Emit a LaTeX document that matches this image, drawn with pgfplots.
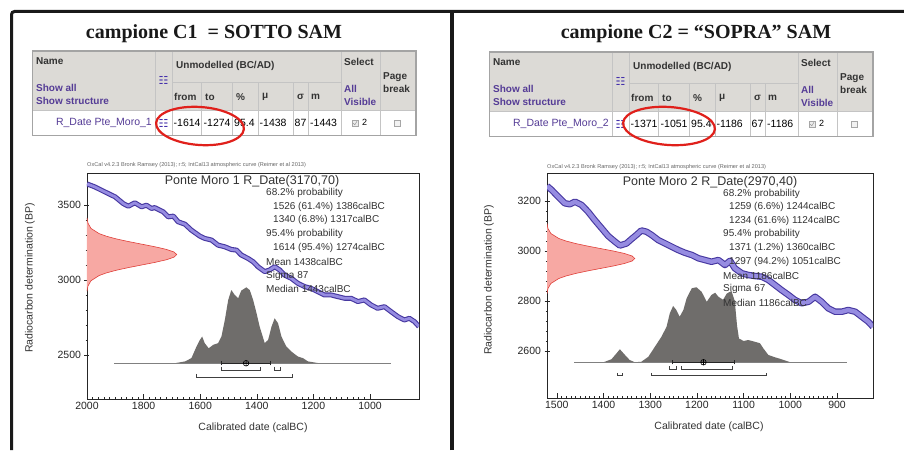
\documentclass[border=0pt]{standalone}
\usepackage{fontspec}
\setmainfont{Liberation Sans}
\newfontfamily\titlefont{Liberation Serif}
\newfontfamily\symfont{DejaVu Sans}
\usepackage{pgfplots}
\pgfplotsset{compat=1.18}

\definecolor{bandedge}{HTML}{4637A0}
\definecolor{bandfill}{HTML}{968CE1}
\definecolor{gaussfill}{HTML}{F7A8A3}
\definecolor{gaussedge}{HTML}{E0403A}
\definecolor{postfill}{HTML}{6F6D6B}
\definecolor{txt}{HTML}{333333}
\definecolor{hdr}{HTML}{DCDAD6}
\definecolor{tabborder}{HTML}{A4A4A4}
\definecolor{tabline}{HTML}{C4C4C4}
\definecolor{lnk}{HTML}{553C96}
\definecolor{ring}{HTML}{E0201B}

\newcommand{\fs}[1]{\fontsize{#1}{#1}\selectfont}

% OxCal style table: x0, y0 (top left), name, from, to, mu, sigma, m
\newcommand{\oxtable}[8]{%
\begin{scope}[shift={(#1,#2)}]
  \fill[tabborder] (-1.5,1.5) rectangle (383.5,-84.5);
  \fill[hdr] (0,0) rectangle (382,-59);
  \fill[white] (0,-59) rectangle (382,-83);
  \draw[tabline, line width=1pt]
    (122,0) -- (122,-83) (139,0) -- (139,-83) (308,0) -- (308,-83) (347,0) -- (347,-83)
    (168,-31) -- (168,-83) (199,-31) -- (199,-83) (225,-31) -- (225,-83)
    (260,-31) -- (260,-83) (275,-31) -- (275,-83)
    (139,-31) -- (308,-31) (0,-59) -- (382,-59);
  \begin{scope}[every node/.style={inner sep=0pt, anchor=west}]
    \node[font=\fs{10}\bfseries, text=txt] at (3,-9) {Name};
    \node[font=\fs{10}\bfseries, text=lnk] at (3,-36) {Show all};
    \node[font=\fs{10}\bfseries, text=lnk] at (3,-49) {Show structure};
    \node[font=\symfont\fs{11}, text=lnk!80!blue, anchor=center] at (130.5,-28) {☷};
    \node[font=\fs{10}\bfseries, text=txt] at (143,-14) {Unmodelled (BC/AD)};
    \node[font=\fs{10}\bfseries, text=txt] at (141,-45) {from};
    \node[font=\fs{10}\bfseries, text=txt] at (172,-45) {to};
    \node[font=\fs{10}\bfseries, text=txt] at (203,-45) {\%};
    \node[font=\fs{10}\bfseries, text=txt] at (229,-45) {μ};
    \node[font=\fs{10}\bfseries, text=txt] at (264,-45) {σ};
    \node[font=\fs{10}\bfseries, text=txt] at (278,-45) {m};
    \node[font=\fs{10}\bfseries, text=txt] at (311,-10) {Select};
    \node[font=\fs{10}\bfseries, text=lnk] at (311,-37) {All};
    \node[font=\fs{10}\bfseries, text=lnk] at (311,-50) {Visible};
    \node[font=\fs{10}\bfseries, text=txt] at (350,-25) {Page};
    \node[font=\fs{10}\bfseries, text=txt] at (350,-37) {break};
    \node[font=\fs{10.5}, text=lnk, anchor=east] at (119,-71) {#3};
    \node[font=\symfont\fs{11}, text=lnk!80!blue, anchor=center] at (130.5,-71) {☷};
    \node[font=\fs{10.5}, text=black] at (140.5,-71) {#4};
    \node[font=\fs{10.5}, text=black] at (170.5,-71) {#5};
    \node[font=\fs{10.5}, text=black] at (201,-71) {95.4};
    \node[font=\fs{10.5}, text=black] at (226.5,-71) {#6};
    \node[font=\fs{10.5}, text=black] at (261.5,-71) {#7};
    \node[font=\fs{10.5}, text=black] at (277,-71) {#8};
    \node[font=\fs{9}, text=black] at (329,-70) {2};
  \end{scope}
  \draw[gray!70, fill=gray!15] (319,-74) rectangle (325,-68);
  \draw[gray!80, line width=0.5pt] (320.2,-71.2) -- (321.8,-72.8) -- (324,-69.2);
  \draw[gray!70, fill=gray!10] (361,-74) rectangle (367,-68);
\end{scope}}

\pgfplotsset{
  oxaxis/.style={
    scale only axis, x dir=reverse,
    axis line style={black!85, line width=0.7pt},
    tick style={black!85, line width=0.5pt},
    major tick length=5pt, minor tick length=2.5pt,
    tick pos=left, xtick align=inside, ytick align=center,
    tick label style={font=\fs{10.5}, text=black!85},
    scaled ticks=false,
    /pgf/number format/assume math mode=true,
    /pgf/number format/set thousands separator={},
  },
}

\begin{document}
\begin{tikzpicture}[x=1pt, y=1pt]
\path[use as bounding box, fill=white] (0,0) rectangle (904,450);

% titles
\node[font=\titlefont\fs{20}\bfseries, text=black!90] at (214,416) {campione C1\ \ = SOTTO SAM};
\node[font=\titlefont\fs{20}\bfseries, text=black!90] at (696,416) {campione C2 = “SOPRA” SAM};

% tables
\oxtable{33}{398}{R\_Date Pte\_Moro\_1}{-1614}{-1274}{-1438}{87}{-1443}
\oxtable{490}{397}{R\_Date Pte\_Moro\_2}{-1371}{-1051}{-1186}{67}{-1186}

% ---------- left chart: Ponte Moro 1 ----------
\begin{axis}[oxaxis, at={(87pt,51pt)}, anchor=south west, width=332pt, height=226pt,
  xmin=827, xmax=2000, ymin=2205, ymax=3715,
  xtick={1000,1200,1400,1600,1800,2000}, minor x tick num=9,
  ytick={2500,3000,3500}, minor y tick num=4]
% calibration curve band
\addplot[bandedge, line width=5pt, line join=round] coordinates {
 (2000,3642) (1972,3622) (1937,3589) (1901,3556) (1872,3511) (1854,3493) (1831,3516)
 (1807,3489) (1790,3500) (1772,3478) (1761,3484) (1731,3456) (1713,3422) (1695,3427)
 (1678,3389) (1654,3373) (1631,3333) (1601,3293) (1584,3278) (1560,3267) (1537,3233)
 (1513,3222) (1490,3204) (1472,3200) (1455,3167) (1431,3144) (1413,3122) (1396,3089)
 (1372,3056) (1355,3067) (1337,3089) (1319,3067) (1302,3033) (1278,3011) (1255,2978)
 (1231,2956) (1208,2944) (1184,2922) (1161,2900) (1137,2900) (1114,2889) (1090,2878)
 (1067,2878) (1043,2856) (1020,2867) (996,2833) (973,2811) (949,2822) (926,2789)
 (902,2756) (879,2733) (861,2744) (843,2722) (827,2689)};
\addplot[bandfill, line width=2.8pt, line join=round] coordinates {
 (2000,3642) (1972,3622) (1937,3589) (1901,3556) (1872,3511) (1854,3493) (1831,3516)
 (1807,3489) (1790,3500) (1772,3478) (1761,3484) (1731,3456) (1713,3422) (1695,3427)
 (1678,3389) (1654,3373) (1631,3333) (1601,3293) (1584,3278) (1560,3267) (1537,3233)
 (1513,3222) (1490,3204) (1472,3200) (1455,3167) (1431,3144) (1413,3122) (1396,3089)
 (1372,3056) (1355,3067) (1337,3089) (1319,3067) (1302,3033) (1278,3011) (1255,2978)
 (1231,2956) (1208,2944) (1184,2922) (1161,2900) (1137,2900) (1114,2889) (1090,2878)
 (1067,2878) (1043,2856) (1020,2867) (996,2833) (973,2811) (949,2822) (926,2789)
 (902,2756) (879,2733) (861,2744) (843,2722) (827,2689)};
% radiocarbon determination 3170+-70
\addplot[draw=gaussedge, fill=gaussfill, line width=0.6pt] coordinates {
 (2000,3415) (1996.5,3380) (1986.1,3345) (1957.1,3310) (1931.4,3292.5) (1897.1,3275)
 (1854.9,3257.5) (1807.7,3240) (1760.7,3222.5) (1720.2,3205) (1692.8,3187.5) (1683,3170)
 (1692.8,3152.5) (1720.2,3135) (1760.7,3117.5) (1807.7,3100) (1854.9,3082.5) (1897.1,3065)
 (1931.4,3047.5) (1957.1,3030) (1986.1,2995) (1996.5,2960) (2000,2925)};
% calibrated distribution
\addplot[draw=none, fill=postfill] coordinates {
 (1690,2444) (1654,2456) (1631,2478) (1613,2556) (1601,2600) (1593,2622) (1584,2578)
 (1570,2544) (1554,2567) (1537,2578) (1525,2622) (1513,2733) (1501,2867) (1490,2933)
 (1478,2900) (1466,2878) (1455,2929) (1437,2951) (1425,2933) (1413,2867) (1401,2778)
 (1390,2689) (1372,2578) (1360,2600) (1348,2689) (1337,2744) (1325,2711) (1313,2622)
 (1296,2556) (1278,2522) (1255,2489) (1237,2478) (1219,2456) (1196,2449) (1180,2444)};
\addplot[gray, line width=0.6pt] coordinates {(1904,2444) (926,2444)};
% ranges
\addplot[black!75, line width=0.6pt] coordinates {(1526,2422) (1526,2400) (1386,2400) (1386,2422)};
\addplot[black!75, line width=0.6pt] coordinates {(1340,2422) (1340,2400) (1317,2400) (1317,2422)};
\addplot[black!75, line width=0.6pt] coordinates {(1614,2373) (1614,2351) (1274,2351) (1274,2373)};
\addplot[black!85, line width=1pt] coordinates {(1525,2444) (1351,2444)};
\addplot[black!85, line width=0.7pt] coordinates {(1525,2430) (1525,2460)};
\addplot[black!85, line width=0.7pt] coordinates {(1351,2430) (1351,2460)};
\addplot[only marks, mark=oplus, mark size=2.8pt, mark options={black, fill=gray!30, line width=0.6pt}] coordinates {(1438,2444)};
\end{axis}

% ---------- right chart: Ponte Moro 2 ----------
\begin{axis}[oxaxis, at={(547pt,52pt)}, anchor=south west, width=326pt, height=225pt,
  xmin=823, xmax=1521, ymin=2412, ymax=3312,
  xtick={900,1000,1100,1200,1300,1400,1500}, minor x tick num=9,
  ytick={2600,2800,3000,3200}, minor y tick num=4]
\addplot[bandedge, line width=6.5pt, line join=round] coordinates {
 (1521,3260) (1511,3244) (1497,3217) (1483,3191) (1472,3187) (1461,3197) (1447,3184)
 (1433,3157) (1419,3124) (1404,3091) (1390,3060) (1376,3038) (1365,3022) (1351,3030)
 (1340,3048) (1329,3065) (1319,3082) (1308,3077) (1297,3064) (1283,3044) (1269,3031)
 (1254,3017) (1240,3004) (1226,2993) (1211,2984) (1197,2971) (1183,2964) (1169,2957)
 (1154,2964) (1140,2944) (1129,2961) (1119,2931) (1104,2911) (1090,2904) (1076,2900)
 (1061,2897) (1047,2884) (1033,2864) (1019,2844) (1004,2824) (990,2804) (976,2791)
 (961,2797) (947,2817) (933,2797) (919,2771) (904,2757) (890,2757) (876,2764)
 (861,2757) (847,2737) (833,2717) (823,2697)};
\addplot[bandfill, line width=4.3pt, line join=round] coordinates {
 (1521,3260) (1511,3244) (1497,3217) (1483,3191) (1472,3187) (1461,3197) (1447,3184)
 (1433,3157) (1419,3124) (1404,3091) (1390,3060) (1376,3038) (1365,3022) (1351,3030)
 (1340,3048) (1329,3065) (1319,3082) (1308,3077) (1297,3064) (1283,3044) (1269,3031)
 (1254,3017) (1240,3004) (1226,2993) (1211,2984) (1197,2971) (1183,2964) (1169,2957)
 (1154,2964) (1140,2944) (1129,2961) (1119,2931) (1104,2911) (1090,2904) (1076,2900)
 (1061,2897) (1047,2884) (1033,2864) (1019,2844) (1004,2824) (990,2804) (976,2791)
 (961,2797) (947,2817) (933,2797) (919,2771) (904,2757) (890,2757) (876,2764)
 (861,2757) (847,2737) (833,2717) (823,2697)};
% radiocarbon determination 2970+-40
\addplot[draw=gaussedge, fill=gaussfill, line width=0.6pt] coordinates {
 (1521,3110) (1518.9,3090) (1512.75,3070) (1495.6,3050) (1480.3,3040) (1460,3030)
 (1434.9,3020) (1407,3010) (1379.1,3000) (1355.1,2990) (1338.8,2980) (1333,2970)
 (1338.8,2960) (1355.1,2950) (1379.1,2940) (1407,2930) (1434.9,2920) (1460,2910)
 (1480.3,2900) (1495.6,2890) (1512.75,2870) (1518.9,2850) (1521,2830)};
\addplot[draw=none, fill=postfill] coordinates {
 (1400,2555) (1383,2567) (1372,2591) (1365,2607) (1354,2584) (1344,2564) (1333,2555)
 (1319,2557) (1304,2577) (1290,2617) (1276,2657) (1265,2697) (1258,2751) (1251,2780)
 (1244,2764) (1237,2737) (1229,2764) (1222,2811) (1211,2851) (1201,2855) (1190,2837)
 (1179,2797) (1169,2824) (1161,2833) (1154,2817) (1144,2805) (1136,2830) (1126,2840)
 (1119,2800) (1114,2700) (1110,2650) (1100,2640) (1090,2644) (1076,2637) (1065,2631)
 (1058,2611) (1047,2584) (1033,2575) (1019,2567) (1000,2555)};
\addplot[gray, line width=0.6pt] coordinates {(1463,2555) (879,2555)};
\addplot[black!75, line width=0.6pt] coordinates {(1259,2540) (1259,2528) (1244,2528) (1244,2540)};
\addplot[black!75, line width=0.6pt] coordinates {(1234,2540) (1234,2528) (1124,2528) (1124,2540)};
\addplot[black!75, line width=0.6pt] coordinates {(1371,2513) (1371,2501) (1360,2501) (1360,2513)};
\addplot[black!75, line width=0.6pt] coordinates {(1297,2513) (1297,2501) (1051,2501) (1051,2513)};
\addplot[black!85, line width=1pt] coordinates {(1253,2555) (1119,2555)};
\addplot[black!85, line width=0.7pt] coordinates {(1253,2547) (1253,2564)};
\addplot[black!85, line width=0.7pt] coordinates {(1119,2547) (1119,2564)};
\addplot[only marks, mark=oplus, mark size=2.8pt, mark options={black, fill=gray!30, line width=0.6pt}] coordinates {(1186,2555)};
\end{axis}

% chart texts
\begin{scope}[every node/.style={inner sep=0pt, text=txt}]
\node[font=\fs{5.6}, anchor=west, text=black!60] at (87,285) {OxCal v4.2.3 Bronk Ramsey (2013); r:5; IntCal13 atmospheric curve (Reimer et al 2013)};
\node[font=\fs{12.5}] at (252,268.5) {Ponte Moro 1 R\_Date(3170,70)};
\node[font=\fs{10}, anchor=west] at (266,257) {68.2\% probability};
\node[font=\fs{10}, anchor=west] at (273,243) {1526 (61.4\%) 1386calBC};
\node[font=\fs{10}, anchor=west] at (273,230) {1340 (6.8\%) 1317calBC};
\node[font=\fs{10}, anchor=west] at (266,216) {95.4\% probability};
\node[font=\fs{10}, anchor=west] at (273,202) {1614 (95.4\%) 1274calBC};
\node[font=\fs{10}, anchor=west] at (266,188) {Mean 1438calBC};
\node[font=\fs{10}, anchor=west] at (266,174) {Sigma 87};
\node[font=\fs{10}, anchor=west] at (266,161) {Median 1443calBC};
\node[font=\fs{10.5}] at (253,22) {Calibrated date (calBC)};
\node[font=\fs{10.5}, rotate=90] at (30,172) {Radiocarbon determination (BP)};
\node[font=\fs{5.6}, anchor=west, text=black!60] at (547,283) {OxCal v4.2.3 Bronk Ramsey (2013); r:5; IntCal13 atmospheric curve (Reimer et al 2013)};
\node[font=\fs{12.5}] at (710,267.5) {Ponte Moro 2 R\_Date(2970,40)};
\node[font=\fs{10}, anchor=west] at (723,256) {68.2\% probability};
\node[font=\fs{10}, anchor=west] at (729,243) {1259 (6.6\%) 1244calBC};
\node[font=\fs{10}, anchor=west] at (729,229) {1234 (61.6\%) 1124calBC};
\node[font=\fs{10}, anchor=west] at (723,216) {95.4\% probability};
\node[font=\fs{10}, anchor=west] at (729,202) {1371 (1.2\%) 1360calBC};
\node[font=\fs{10}, anchor=west] at (729,188) {1297 (94.2\%) 1051calBC};
\node[font=\fs{10}, anchor=west] at (723,174) {Mean 1186calBC};
\node[font=\fs{10}, anchor=west] at (723,161) {Sigma 67};
\node[font=\fs{10}, anchor=west] at (723,147) {Median 1186calBC};
\node[font=\fs{10.5}] at (709,23) {Calibrated date (calBC)};
\node[font=\fs{10.5}, rotate=90] at (489,170) {Radiocarbon determination (BP)};
\end{scope}

% red rings
\draw[ring, line width=2.2pt, rotate around={-4:(200,324)}] (200,324) ellipse [x radius=44, y radius=19];
\draw[ring, line width=2.2pt, rotate around={-4:(669,324)}] (669,324) ellipse [x radius=46, y radius=19];

% frame lines
\draw[black!90, line width=3pt, rounded corners=3pt] (11.5,0) -- (11.5,438.5) -- (904,438.5);
\draw[black!90, line width=4pt] (451.5,0) -- (451.5,440);
\end{tikzpicture}
\end{document}
